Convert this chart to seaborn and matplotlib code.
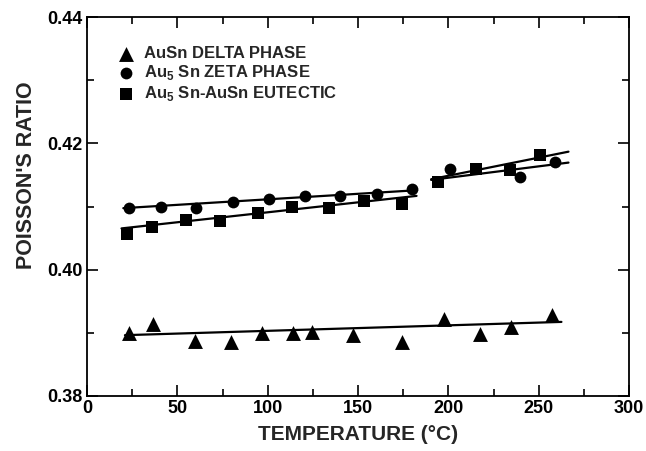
import numpy as np
import pandas as pd
import matplotlib
matplotlib.use("Agg")
import matplotlib.pyplot as plt
from matplotlib.ticker import MultipleLocator
import seaborn as sns

# ---- data ----
delta_T = [23.4, 36.6, 59.6, 79.9, 97.0, 113.8, 124.3, 147.3, 174.4, 197.4, 217.4, 234.8, 257.2]
delta_v = [0.3899, 0.3914, 0.3887, 0.3886, 0.3900, 0.3899, 0.3901, 0.3896, 0.3885, 0.3922, 0.3898, 0.3909, 0.3928]

zeta_T = [23.4, 41.1, 60.4, 80.7, 100.7, 120.4, 140.3, 160.3, 179.8, 200.9, 239.8, 259.3]
zeta_v = [0.4097, 0.4099, 0.4097, 0.4107, 0.4112, 0.4116, 0.4116, 0.4120, 0.4128, 0.4160, 0.4147, 0.4170]

eut_T = [22.0, 36.2, 54.7, 73.6, 94.7, 113.6, 134.0, 153.5, 174.6, 194.4, 215.5, 234.4, 251.0]
eut_v = [0.4056, 0.4068, 0.4078, 0.4077, 0.4089, 0.4100, 0.4097, 0.4108, 0.4104, 0.4139, 0.4160, 0.4157, 0.4182]

# fitted lines (endpoints)
delta_fit_T = [21.0, 262.6]
delta_fit_v = [0.38963, 0.39173]
zeta_fit1_T = [20.1, 182.7]
zeta_fit1_v = [0.40974, 0.41258]
zeta_fit2_T = [190.5, 266.5]
zeta_fit2_v = [0.41421, 0.41695]
eut_fit1_T = [19.1, 182.4]
eut_fit1_v = [0.40653, 0.41168]
eut_fit2_T = [190.5, 266.5]
eut_fit2_v = [0.41432, 0.41868]

labels = ["AuSn DELTA PHASE",
          r"Au$_\mathbf{5}$ Sn ZETA PHASE",
          r"Au$_\mathbf{5}$ Sn-AuSn EUTECTIC"]

x_ticks = [0, 50, 100, 150, 200, 250, 300]
y_ticks = [0.38, 0.40, 0.42, 0.44]

sns.set_theme(style="ticks")
plt.rcParams['font.family'] = ['Liberation Sans', 'DejaVu Sans']
plt.rcParams['font.weight'] = 'bold'
plt.rcParams['mathtext.fontset'] = 'custom'
plt.rcParams['mathtext.bf'] = 'Liberation Sans:bold'
plt.rcParams['mathtext.rm'] = 'Liberation Sans:bold'

df = pd.concat([
    pd.DataFrame({"T": delta_T, "v": delta_v, "phase": labels[0]}),
    pd.DataFrame({"T": zeta_T, "v": zeta_v, "phase": labels[1]}),
    pd.DataFrame({"T": eut_T, "v": eut_v, "phase": labels[2]}),
], ignore_index=True)

fig = plt.figure(figsize=(6.46, 4.51), dpi=100)
ax = fig.add_axes([87/646, 1 - 396/451, 542/646, 379/451])

fits = [(delta_fit_T, delta_fit_v), (zeta_fit1_T, zeta_fit1_v), (zeta_fit2_T, zeta_fit2_v),
        (eut_fit1_T, eut_fit1_v), (eut_fit2_T, eut_fit2_v)]
for ft, fv in fits:
    sns.lineplot(x=ft, y=fv, ax=ax, color="black", lw=1.6, legend=False)

sizes = {labels[0]: 115, labels[1]: 72, labels[2]: 78}
markers = {labels[0]: "^", labels[1]: "o", labels[2]: "s"}
for lab in labels:
    sub = df[df.phase == lab]
    sns.scatterplot(data=sub, x="T", y="v", ax=ax, marker=markers[lab], s=sizes[lab],
                    color="black", edgecolor="black", linewidth=0, label=lab, zorder=3)

ax.set_xlim(0, 300)
ax.set_ylim(0.38, 0.44)
ax.set_xticks(x_ticks)
ax.set_yticks(y_ticks)
ax.set_yticklabels([f"{t:.2f}" for t in y_ticks])
ax.xaxis.set_minor_locator(MultipleLocator(25))
ax.yaxis.set_minor_locator(MultipleLocator(0.01))
ax.tick_params(which="both", direction="in", top=True, right=True, width=1.2, colors="black",
               labelsize=13, pad=3)
ax.tick_params(which="major", length=8)
ax.tick_params(which="minor", length=5)
for lab in ax.get_xticklabels() + ax.get_yticklabels():
    lab.set_fontweight("bold")
for sp in ax.spines.values():
    sp.set_linewidth(1.3)
    sp.set_color("black")

ax.set_xlabel("TEMPERATURE (°C)", fontsize=15, fontweight="bold", labelpad=6)
ax.set_ylabel("POISSON'S RATIO", fontsize=15.5, fontweight="bold")
ax.yaxis.set_label_coords(-0.093, 0.583)

leg = ax.legend(loc="upper left", frameon=False, fontsize=12, handletextpad=0.3,
                labelspacing=0.12, borderaxespad=0, bbox_to_anchor=(0.035, 0.94),
                markerscale=1.0, handlelength=1.6)
for t in leg.get_texts():
    t.set_fontweight("bold")

fig.savefig("out.png", dpi=100)
